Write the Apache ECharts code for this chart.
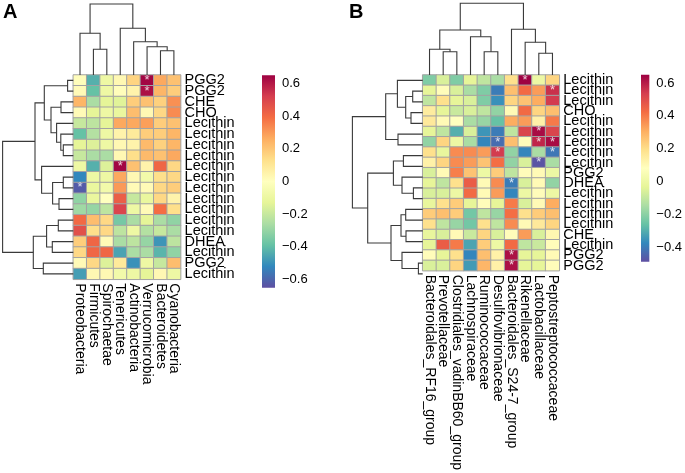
<!DOCTYPE html>
<html><head><meta charset="utf-8">
<script src="https://cdn.jsdelivr.net/npm/echarts@6/dist/echarts.min.js"></script>
<style>html,body{margin:0;padding:0;background:#fff}#c{width:685px;height:473px}</style>
</head><body><div id="c"></div>
<script>
// ---------------- data ----------------
const colsA = ['Proteobacteria','Firmicutes','Spirochaetae','Tenericutes','Actinobacteria','Verrucomicrobia','Bacteroidetes','Cyanobacteria'];
const rowsA = ['PGG2','PGG2','CHE','CHO','Lecithin','Lecithin','Lecithin','Lecithin','Lecithin','Lecithin','Lecithin','Lecithin','Lecithin','Lecithin','Lecithin','DHEA','Lecithin','PGG2','Lecithin'];
const valuesA = [
  [0.01,-0.43,-0.09,0.03,0.16,0.64,0.27,0.21],
  [0.02,-0.39,-0.09,0.01,0.05,0.62,0.24,0.18],
  [0.24,-0.26,-0.13,-0.14,0.18,0.21,0.17,0.32],
  [0.02,-0.13,-0.09,-0.11,0.22,0.03,0.15,0.33],
  [-0.2,-0.22,-0.13,0.27,0.27,0.29,0.18,0.21],
  [-0.39,-0.24,-0.09,0.05,0.09,0.18,0.18,0.24],
  [-0.13,-0.15,-0.09,0.03,0.05,0.23,0.17,0.24],
  [-0.2,-0.26,-0.26,0.03,0.13,0.23,0.21,0.27],
  [-0.09,-0.43,-0.15,0.64,0.21,0.05,0.41,0.15],
  [-0.52,-0.09,-0.09,0.27,0.03,-0.07,0.13,0.15],
  [-0.62,-0.11,-0.07,0.3,0.02,0.02,0.15,0.18],
  [-0.31,-0.11,0.0,0.43,-0.2,-0.11,0.15,0.05],
  [-0.28,-0.3,-0.22,0.5,-0.09,0.02,0.39,0.13],
  [0.4,0.22,0.15,-0.36,-0.26,-0.13,-0.26,-0.31],
  [0.47,0.13,0.15,-0.22,-0.09,-0.24,-0.2,-0.26],
  [0.18,0.41,0.02,-0.26,-0.22,-0.3,-0.49,-0.22],
  [0.15,0.41,0.41,-0.46,-0.26,-0.26,-0.42,-0.31],
  [0.02,0.15,-0.15,0.09,-0.5,-0.09,-0.2,0.22],
  [-0.47,0.03,0.03,-0.07,-0.09,-0.13,0.03,-0.09]
];
const starsA = [[5,0],[5,1],[3,8],[0,10]];

const colsB = ['Bacteroidales_RF16_group','Prevotellaceae','Clostridiales_vadinBB60_group','Lachnospiraceae','Ruminococcaceae','Desulfovibrionaceae','Bacteroidales_S24-7_group','Rikenellaceae','Lactobacillaceae','Peptostreptococcaceae'];
const rowsB = ['Lecithin','Lecithin','Lecithin','CHO','Lecithin','Lecithin','Lecithin','Lecithin','Lecithin','PGG2','DHEA','Lecithin','Lecithin','Lecithin','Lecithin','CHE','Lecithin','PGG2','PGG2'];
const valuesB = [
  [-0.22,-0.06,-0.22,-0.03,-0.11,-0.15,0.19,0.65,0.0,0.22],
  [-0.03,0.09,-0.06,-0.15,-0.22,-0.4,0.27,0.43,0.34,0.56],
  [-0.11,0.19,-0.03,-0.06,-0.22,-0.36,0.22,0.26,0.31,0.54],
  [0.15,-0.03,-0.09,-0.06,-0.11,-0.19,0.10,0.43,0.22,0.27],
  [0.16,0.10,0.08,-0.15,-0.18,-0.26,0.31,0.34,0.13,0.40],
  [-0.03,-0.11,-0.30,-0.06,-0.35,-0.40,-0.11,0.52,0.63,0.52],
  [-0.19,0.22,0.0,-0.15,-0.38,-0.43,0.27,0.09,0.58,0.63],
  [0.19,-0.02,0.37,0.37,0.34,0.54,-0.19,-0.38,-0.15,-0.41],
  [0.13,0.22,0.37,0.34,0.26,0.42,-0.19,-0.06,-0.48,-0.15],
  [-0.06,0.10,0.39,0.26,0.0,0.24,-0.11,0.09,0.10,0.0],
  [-0.03,-0.11,0.19,0.46,0.10,0.37,-0.40,-0.06,0.10,-0.19],
  [-0.06,-0.06,0.0,0.43,0.10,0.34,-0.38,0.0,0.09,0.0],
  [-0.02,0.19,0.24,-0.03,0.09,-0.03,0.40,-0.06,0.10,0.31],
  [0.24,0.27,0.24,-0.24,-0.11,-0.18,0.42,0.19,0.24,0.27],
  [0.19,-0.11,-0.18,-0.24,0.19,-0.11,0.37,0.10,0.16,0.22],
  [-0.02,-0.06,0.10,-0.09,0.22,-0.06,0.09,0.34,-0.06,0.11],
  [-0.03,0.46,0.40,-0.32,0.24,0.0,0.43,-0.11,-0.09,0.09],
  [0.09,-0.03,0.19,-0.38,0.27,0.13,0.62,-0.03,-0.03,0.10],
  [-0.06,-0.06,0.22,-0.34,0.29,0.13,0.62,-0.03,-0.03,0.09]
];
const starsB = [[7,0],[9,1],[8,5],[5,6],[8,6],[9,6],[5,7],[9,7],[8,8],[6,10],[6,17],[6,18]];

// dendrogram merges: [left, right, height]; negative = leaf (display position, 1-based), positive = earlier merge (1-based)
const colTreeA = [[-2,-3,25.7],[-1,1,41.7],[-7,-8,24.3],[-6,3,28.3],[-5,4,33.3],[-4,5,46.7],[2,6,71]];
const rowTreeA = [[-1,-2,5.7],[-3,-4,12.3],[-7,-8,10],[-6,3,12.5],[-5,4,16.7],[2,5,22.3],[1,6,29],
  [-10,-11,10],[-12,-13,14.3],[8,9,20.7],[-9,10,31.7],[7,11,38.3],
  [-14,-15,15],[-16,-17,21],[13,14,26.7],[-18,-19,30],[15,16,40],[12,17,70.7]];
const colTreeB = [[-2,-3,23.3],[-1,1,25.7],[-5,-6,23.3],[-4,3,38.3],[2,4,45],[-9,-10,21.7],[-8,6,32.7],[-7,7,45.7],[5,8,71.7]];
const rowTreeB = [[-2,-3,10],[-4,-5,11.7],[1,2,17],[-1,3,25.3],[-6,-7,24.7],[4,5,37],
  [-8,-9,19.3],[-11,-12,9.3],[-10,8,20.7],[7,9,29.3],[-13,-14,17],[-15,-16,16.7],[11,12,21.7],
  [-18,-19,4.3],[-17,14,20.7],[13,15,31.7],[10,16,55],[6,17,70.3]];

const rangeA = [-0.65, 0.65];
const rangeB = [-0.49, 0.65];
const ticksA = [-0.6, 0.6];
const ticksB = [-0.4, 0.6];
const palette = ['#5e4fa2','#3288bd','#66c2a5','#abdda4','#e6f598','#ffffbf','#fee08b','#fdae61','#f46d43','#d53e4f','#9e0142'];

// ---------------- helpers ----------------
function cells(vals){const out=[];vals.forEach((r,ri)=>r.forEach((v,ci)=>out.push([ci,ri,v])));return out;}
function dendroSegments(merges){
  const nodes=[];const segs=[];
  const get=id=>id<0?{pos:-id-1,h:0}:nodes[id-1];
  merges.forEach(([a,b,h])=>{const A=get(a),B=get(b);segs.push([A.pos,A.h,B.pos,B.h,h]);nodes.push({pos:(A.pos+B.pos)/2,h:h});});
  return segs;
}
function dendroSeries(merges, axisIndex, vertical){
  return {type:'custom', xAxisIndex:axisIndex, yAxisIndex:axisIndex, data:dendroSegments(merges), silent:true, clip:false,
    renderItem:(params,api)=>{
      const p1=api.value(0),h1=api.value(1),p2=api.value(2),h2=api.value(3),h=api.value(4);
      const pt=(p,hh)=>vertical?api.coord([hh,p]):api.coord([p,hh]);
      return {type:'polyline',shape:{points:[pt(p1,h1),pt(p1,h),pt(p2,h),pt(p2,h2)]},style:{stroke:'#3a3a3a',lineWidth:1.1,fill:null}};
    }};
}
function colorbarSeries(range, axisIndex){
  return {type:'custom', xAxisIndex:axisIndex, yAxisIndex:axisIndex, data:[[0,range[0],1,range[1]]], silent:true, clip:false,
    renderItem:(params,api)=>{
      const a=api.coord([api.value(0),api.value(3)]), b=api.coord([api.value(2),api.value(1)]);
      const stops=palette.slice().reverse().map((c,i)=>({offset:i/(palette.length-1),color:c}));
      return {type:'rect',shape:{x:a[0],y:a[1],width:b[0]-a[0],height:b[1]-a[1]},style:{fill:new echarts.graphic.LinearGradient(0,0,0,1,stops)}};
    }};
}
const FONT='Liberation Sans';
const fmt=v=>Math.abs(v)<1e-9?'0':(v<0?'\u2212':'')+Math.abs(v).toFixed(1);
const hidden=(extra)=>Object.assign({type:'value',show:false,axisLine:{show:false},axisTick:{show:false},axisLabel:{show:false},splitLine:{show:false}},extra);

const gA={l:73.3,t:75,w:107.3,h:204.3};
const gB={l:422.7,t:75,w:136.6,h:204.3};

const option={
  animation:false,
  textStyle:{fontFamily:FONT},
  grid:[
    {left:gA.l,top:gA.t,width:gA.w,height:gA.h},
    {left:gB.l,top:gB.t,width:gB.w,height:gB.h},
    {left:gA.l,top:4,width:gA.w,height:71},
    {left:0,top:gA.t,width:73.3,height:gA.h},
    {left:gB.l,top:3.3,width:gB.w,height:71.7},
    {left:347.7,top:gB.t,width:75,height:gB.h},
    {left:262,top:83.3,width:13,height:196.2},
    {left:641,top:83,width:13,height:164}
  ],
  xAxis:[
    {type:'category',gridIndex:0,data:colsA,axisLine:{show:false},axisTick:{show:false},splitLine:{show:false},
     axisLabel:{rotate:-90,interval:0,margin:4,fontSize:14,color:'#000',fontFamily:FONT,overflow:'none'}},
    {type:'category',gridIndex:1,data:colsB,axisLine:{show:false},axisTick:{show:false},splitLine:{show:false},
     axisLabel:{rotate:-90,interval:0,margin:4,fontSize:14,color:'#000',fontFamily:FONT,overflow:'none'}},
    hidden({gridIndex:2,min:-0.5,max:7.5}),
    hidden({gridIndex:3,min:0,max:73.3,inverse:true}),
    hidden({gridIndex:4,min:-0.5,max:9.5}),
    hidden({gridIndex:5,min:0,max:75,inverse:true}),
    hidden({gridIndex:6,min:0,max:1}),
    hidden({gridIndex:7,min:0,max:1})
  ],
  yAxis:[
    {type:'category',gridIndex:0,inverse:true,position:'right',data:rowsA.map((_,i)=>'a'+i),axisLine:{show:false},axisTick:{show:false},splitLine:{show:false},
     axisLabel:{interval:0,margin:4,fontSize:14.5,color:'#000',fontFamily:FONT,overflow:'none',formatter:(v,i)=>rowsA[i]}},
    {type:'category',gridIndex:1,inverse:true,position:'right',data:rowsB.map((_,i)=>'b'+i),axisLine:{show:false},axisTick:{show:false},splitLine:{show:false},
     axisLabel:{interval:0,margin:4,fontSize:14.5,color:'#000',fontFamily:FONT,overflow:'none',formatter:(v,i)=>rowsB[i]}},
    hidden({gridIndex:2,min:0,max:71}),
    hidden({gridIndex:3,min:-0.5,max:18.5,inverse:true}),
    hidden({gridIndex:4,min:0,max:71.7}),
    hidden({gridIndex:5,min:-0.5,max:18.5,inverse:true}),
    {type:'value',gridIndex:6,position:'right',min:ticksA[0],max:ticksA[1],interval:0.2,axisLine:{show:false},axisTick:{show:false},splitLine:{show:false},
     axisLabel:{margin:7,fontSize:13,color:'#000',fontFamily:FONT,formatter:fmt}},
    {type:'value',gridIndex:7,position:'right',min:ticksB[0],max:ticksB[1],interval:0.2,axisLine:{show:false},axisTick:{show:false},splitLine:{show:false},
     axisLabel:{margin:7,fontSize:13,color:'#000',fontFamily:FONT,formatter:fmt}}
  ],
  visualMap:[
    {type:'continuous',show:false,seriesIndex:0,min:rangeA[0],max:rangeA[1],dimension:2,inRange:{color:palette}},
    {type:'continuous',show:false,seriesIndex:1,min:rangeB[0],max:rangeB[1],dimension:2,inRange:{color:palette}}
  ],
  series:[
    {type:'heatmap',xAxisIndex:0,yAxisIndex:0,data:cells(valuesA),itemStyle:{borderColor:'#a3a3a3',borderWidth:1},emphasis:{disabled:true},silent:true},
    {type:'heatmap',xAxisIndex:1,yAxisIndex:1,data:cells(valuesB),itemStyle:{borderColor:'#a3a3a3',borderWidth:1},emphasis:{disabled:true},silent:true},
    {type:'scatter',xAxisIndex:0,yAxisIndex:0,data:starsA,symbolSize:0,silent:true,label:{show:true,position:'inside',formatter:'*',color:'#fff',fontSize:13,fontFamily:FONT}},
    {type:'scatter',xAxisIndex:1,yAxisIndex:1,data:starsB,symbolSize:0,silent:true,label:{show:true,position:'inside',formatter:'*',color:'#fff',fontSize:13,fontFamily:FONT}},
    dendroSeries(colTreeA,2,false),
    dendroSeries(rowTreeA,3,true),
    dendroSeries(colTreeB,4,false),
    dendroSeries(rowTreeB,5,true),
    colorbarSeries(rangeA,6),
    colorbarSeries(rangeB,7)
  ],
  graphic:[
    {type:'text',left:3,top:2,style:{text:'A',font:'bold 20px "Liberation Sans"',fill:'#000'}},
    {type:'text',left:349,top:2,style:{text:'B',font:'bold 20px "Liberation Sans"',fill:'#000'}}
  ]
};
const chart=echarts.init(document.getElementById('c'),null,{renderer:'canvas'});
chart.setOption(option);
</script></body></html>
